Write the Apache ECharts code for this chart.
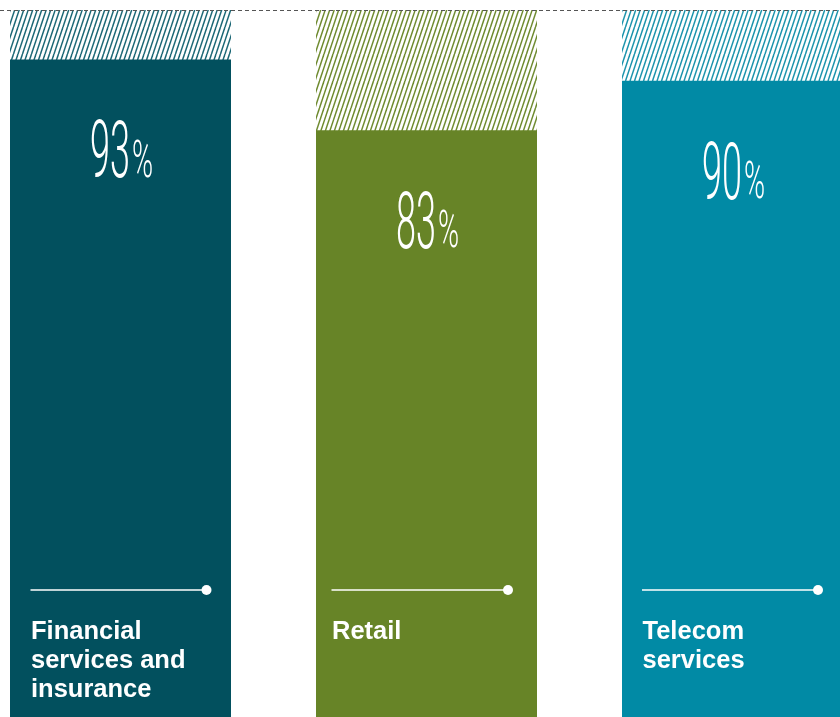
<!DOCTYPE html>
<html>
<head>
<meta charset="utf-8">
<script src="https://cdn.jsdelivr.net/npm/echarts@6/dist/echarts.min.js"></script>
<style>
html,body{margin:0;padding:0;background:#fff;}
#chart{width:840px;height:717px;}
</style>
</head>
<body>
<div id="chart"></div>
<script>
// ---- data ----
const categories = ['Financial\nservices and\ninsurance', 'Retail', 'Telecom\nservices'];
const values = [93, 83, 90];
const fullValues = [100, 100, 100];

// ---- styles ----
const barColors = ['#02505E', '#678427', '#018AA5'];
const hatchColors = ['#1B6775', '#6E8A2E', '#1A93AC'];
const BAR_W = 221;
const leftInset = [20.5, 15.5, 20];
const dotInset = [24.5, 29, 25];

function makePattern(color) {
  const w = 9, h = 27;
  const c = document.createElement('canvas');
  c.width = w; c.height = h;
  const ctx = c.getContext('2d');
  ctx.fillStyle = '#fff';
  ctx.fillRect(0, 0, w, h);
  ctx.strokeStyle = color;
  ctx.lineWidth = 1.5;
  for (let k = -3; k <= 3; k++) {
    const ox = k * 4.5;
    ctx.beginPath();
    ctx.moveTo(ox, h);
    ctx.lineTo(ox + 9, 0);
    ctx.stroke();
  }
  return { image: c, repeat: 'repeat' };
}

const chart = echarts.init(document.getElementById('chart'));

function renderItem(params, api) {
  const idx = api.value(0);
  const v = api.value(1);
  const base = api.coord([idx, 0]);
  const top = api.coord([idx, v]);
  const cx = base[0];
  const left = cx - BAR_W / 2;
  const right = cx + BAR_W / 2;
  const numY = top[1] + 58;
  const lineY = base[1] - 127;
  const lx = left + leftInset[idx];
  const dx = right - dotInset[idx];
  return {
    type: 'group',
    children: [
      {
        type: 'text',
        x: cx + 9.5, y: numY, scaleX: 0.45, scaleY: 1,
        style: {
          text: String(v), fill: '#fff', align: 'right', verticalAlign: 'top',
          font: '300 80px Roboto'
        }
      },
      {
        type: 'text',
        x: cx + 11.5, y: numY + 21, scaleX: 0.56, scaleY: 1,
        style: {
          text: '%', fill: '#fff', align: 'left', verticalAlign: 'top',
          font: '300 51px Roboto'
        }
      },
      {
        type: 'line',
        shape: { x1: lx, y1: lineY, x2: dx, y2: lineY },
        style: { stroke: '#fff', lineWidth: 1.5 }
      },
      {
        type: 'circle',
        shape: { cx: dx, cy: lineY, r: 5 },
        style: { fill: '#fff' }
      },
      {
        type: 'text',
        x: lx + 0.5, y: base[1] - 99.5,
        style: {
          text: categories[idx], fill: '#fff', align: 'left', verticalAlign: 'top',
          font: 'bold 25.5px "Liberation Sans", Arial, sans-serif', lineHeight: 29
        }
      }
    ]
  };
}

// x value axis: category i sits at x = i; range chosen so centres land 306px apart
chart.setOption({
  animation: false,
  grid: { left: 0, right: 0, top: 10, bottom: 0, containLabel: false },
  xAxis: {
    type: 'value', min: -120.5 / 306, max: -120.5 / 306 + 840 / 306, show: false,
    splitLine: { show: false }
  },
  yAxis: { type: 'value', min: 0, max: 100, show: false, splitLine: { show: false } },
  series: [
    {
      type: 'bar',
      barWidth: BAR_W,
      barGap: '-100%',
      z: 1,
      data: fullValues.map((v, i) => ({ value: [i, v], itemStyle: { color: makePattern(hatchColors[i]) } })),
      markLine: {
        silent: true, symbol: 'none', animation: false,
        label: { show: false },
        lineStyle: { color: '#555', type: [4, 3], width: 1 },
        data: [{ yAxis: 100 }]
      }
    },
    {
      type: 'bar',
      barWidth: BAR_W,
      barGap: '-100%',
      z: 2,
      data: values.map((v, i) => ({ value: [i, v], itemStyle: { color: barColors[i] } }))
    },
    {
      type: 'custom',
      z: 3,
      renderItem: renderItem,
      data: values.map((v, i) => [i, v])
    }
  ]
});
</script>
</body>
</html>
